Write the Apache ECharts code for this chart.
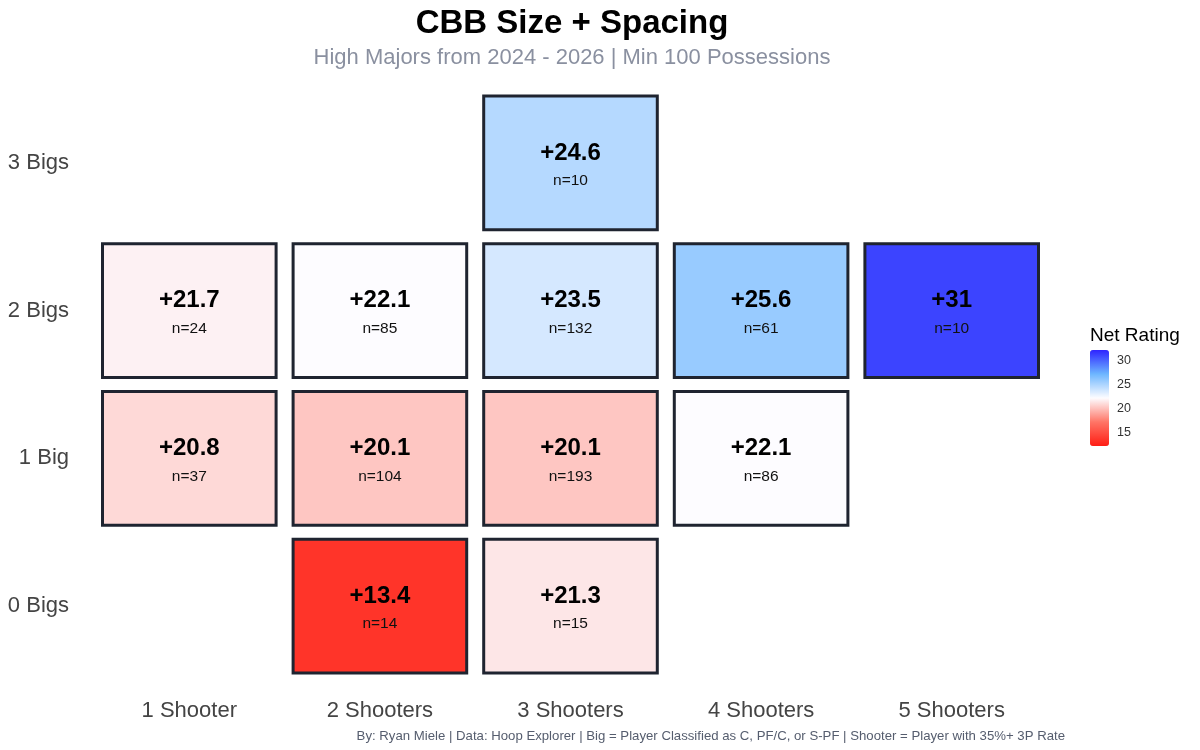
<!DOCTYPE html>
<html>
<head>
<meta charset="utf-8">
<script src="https://cdn.jsdelivr.net/npm/echarts@6/dist/echarts.min.js"></script>
<style>
  html, body { margin: 0; padding: 0; background: #fff; }
  #chart { width: 1200px; height: 750px; }
</style>
</head>
<body>
<div id="chart"></div>
<script>
// categories
var shooters = ['1 Shooter', '2 Shooters', '3 Shooters', '4 Shooters', '5 Shooters']
var bigs = ['0 Bigs', '1 Big', '2 Bigs', '3 Bigs']

// one entry per lineup cell
var cellShooter = ['3 Shooters',
    '1 Shooter', '2 Shooters', '3 Shooters', '4 Shooters', '5 Shooters',
    '1 Shooter', '2 Shooters', '3 Shooters', '4 Shooters',
    '2 Shooters', '3 Shooters']
var cellBigs = ['3 Bigs',
    '2 Bigs', '2 Bigs', '2 Bigs', '2 Bigs', '2 Bigs',
    '1 Big', '1 Big', '1 Big', '1 Big',
    '0 Bigs', '0 Bigs']
var netRating = [24.6,
    21.7, 22.1, 23.5, 25.6, 31,
    20.8, 20.1, 20.1, 22.1,
    13.4, 21.3]
var lineupCount = [10,
    24, 85, 132, 61, 10,
    37, 104, 193, 86,
    14, 15]

// legend scale
var legendMin = 12.1
var legendMax = 32.1
var legendTicks = [15, 20, 25, 30]

var cells = []
for (var i = 0; i < netRating.length; i++) {
    cells.push([shooters.indexOf(cellShooter[i]), bigs.indexOf(cellBigs[i]), netRating[i], lineupCount[i]])
}

var font = 'Liberation Sans, Arial, Helvetica, sans-serif'
var myChart = echarts.init(document.getElementById('chart'))

var option = {
    backgroundColor: '#ffffff',
    title: [{
        text: 'CBB Size + Spacing',
        subtext: 'High Majors from 2024 - 2026 | Min 100 Possessions',
        left: 567,
        textAlign: 'center',
        top: 2,
        itemGap: 7,
        textStyle: { fontFamily: font, fontSize: 33, fontWeight: 'bold', color: '#000' },
        subtextStyle: { fontFamily: font, fontSize: 22, color: '#8a90a0' }
    }, {
        text: 'By: Ryan Miele | Data: Hoop Explorer | Big = Player Classified as C, PF/C, or S-PF | Shooter = Player with 35%+ 3P Rate',
        right: 130,
        bottom: 2,
        textStyle: { fontFamily: font, fontSize: 13.2, fontWeight: 'normal', color: '#555d6e' }
    }, {
        text: 'Net Rating',
        left: 1085,
        top: 321,
        textStyle: { fontFamily: font, fontSize: 19, fontWeight: 'normal', color: '#000' }
    }],
    grid: [
        { left: 94, right: 153, top: 89, bottom: 70 },
        { left: 1090, top: 350, width: 19, height: 96 }
    ],
    xAxis: [{
        type: 'category',
        data: shooters,
        gridIndex: 0,
        axisLine: { show: false },
        axisTick: { show: false },
        splitLine: { show: false },
        axisLabel: { fontFamily: font, fontSize: 22, color: '#444', margin: 20 }
    }, {
        type: 'value',
        gridIndex: 1,
        show: false
    }],
    yAxis: [{
        type: 'category',
        data: bigs,
        gridIndex: 0,
        axisLine: { show: false },
        axisTick: { show: false },
        splitLine: { show: false },
        axisLabel: { fontFamily: font, fontSize: 22, color: '#444', margin: 25 }
    }, {
        type: 'value',
        gridIndex: 1,
        min: legendMin,
        max: legendMax,
        position: 'right',
        axisLine: { show: false },
        splitLine: { show: false },
        axisTick: {
            show: true, inside: true, length: 4,
            lineStyle: { color: '#ffffff', width: 1 },
            customValues: legendTicks
        },
        axisLabel: {
            fontFamily: font, fontSize: 12.5, color: '#333', margin: 8,
            customValues: legendTicks
        }
    }],
    visualMap: {
        type: 'continuous',
        seriesIndex: 0,
        min: legendMin,
        max: legendMax,
        left: 1090,
        top: 350,
        padding: 0,
        itemWidth: 19,
        itemHeight: 96,
        calculable: false,
        showLabel: false,
        text: null,
        dimension: 2,
        inRange: {
            color: ['#ff1d14', '#ff7566', '#fdfcff', '#6db6ff', '#2e24ff']
        }
    },
    series: [{
        type: 'custom',
        xAxisIndex: 0,
        yAxisIndex: 0,
        data: cells,
        encode: { x: 0, y: 1 },
        renderItem: function (params, api) {
            var c = api.coord([api.value(0), api.value(1)])
            var s = api.size([1, 1])
            var w = s[0] - 17
            var h = s[1] - 14
            return {
                type: 'group',
                children: [{
                    type: 'rect',
                    shape: { x: c[0] - w / 2, y: c[1] - h / 2, width: w, height: h },
                    style: { fill: api.visual('color'), stroke: '#1f2430', lineWidth: 3 }
                }, {
                    type: 'text',
                    x: c[0],
                    y: c[1] - 10,
                    style: {
                        text: '+' + api.value(2),
                        fontFamily: font, fontSize: 24, fontWeight: 'bold',
                        fill: '#000', align: 'center', verticalAlign: 'middle'
                    }
                }, {
                    type: 'text',
                    x: c[0],
                    y: c[1] + 18,
                    style: {
                        text: 'n=' + api.value(3),
                        fontFamily: font, fontSize: 15.5,
                        fill: '#111', align: 'center', verticalAlign: 'middle'
                    }
                }]
            }
        }
    }]
}

myChart.setOption(option)
</script>
</body>
</html>
